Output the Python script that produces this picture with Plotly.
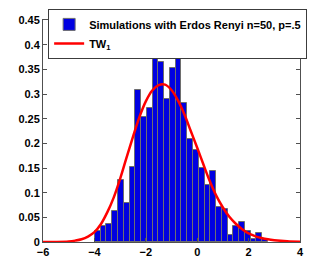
import plotly.graph_objects as go

# Histogram (normalised density), 30 bins
bin_start = -3.98
bin_width = 0.2245
density = [0.0223, 0.0325, 0.0365, 0.063, 0.125, 0.080, 0.152, 0.308, 0.254, 0.272,
           0.375, 0.364, 0.290, 0.352, 0.375, 0.281, 0.209, 0.187, 0.151, 0.116,
           0.143, 0.0717, 0.0676, 0.0142, 0.0325, 0.0406, 0.023, 0.0054, 0.018, 0.0054]
bin_centers = [bin_start + bin_width * (i + 0.5) for i in range(len(density))]

# Tracy-Widom (beta=1) density
tw_x = [-6, -5.5, -5, -4.75, -4.5, -4.25, -4, -3.75, -3.5, -3.25, -3, -2.75, -2.5, -2.25,
        -2, -1.75, -1.5, -1.25, -1, -0.75, -0.5, -0.25, 0, 0.25, 0.5, 0.75, 1, 1.25,
        1.5, 1.75, 2, 2.25, 2.5, 2.75, 3, 3.5, 4]
tw_y = [0.00002, 0.0002, 0.0012, 0.0028, 0.0055, 0.011, 0.02, 0.036, 0.06, 0.09, 0.128,
        0.171, 0.213, 0.253, 0.285, 0.307, 0.318, 0.319, 0.308, 0.287, 0.259, 0.225,
        0.191, 0.156, 0.122, 0.093, 0.07, 0.051, 0.037, 0.026, 0.0175, 0.012, 0.0082,
        0.0055, 0.0037, 0.0015, 0.0005]

x_ticks = [-6, -4, -2, 0, 2, 4]
y_ticks = [0, 0.05, 0.1, 0.15, 0.2, 0.25, 0.3, 0.35, 0.4, 0.45]
y_tick_labels = ["0", "0.05", "0.1", "0.15", "0.2", "0.25", "0.3", "0.35", "0.4", "0.45"]

font = dict(family="Liberation Sans, Arial, sans-serif", size=11, color="black", weight="bold")

fig = go.Figure()
fig.add_trace(go.Bar(
    x=bin_centers, y=density, width=bin_width,
    marker=dict(color="rgb(0,0,225)", line=dict(color="rgb(110,110,110)", width=1)),
    name="Simulations with Erdos Renyi n=50, p=.5",
))
fig.add_trace(go.Scatter(
    x=tw_x, y=tw_y, mode="lines",
    line=dict(color="rgb(255,0,0)", width=2.5, shape="spline", smoothing=1.0),
    name="TW<sub>1</sub>",
))

axis_common = dict(
    showline=True, linecolor="rgb(80,80,80)", linewidth=1, mirror="ticks",
    ticks="inside", ticklen=4, tickcolor="rgb(80,80,80)", tickwidth=1,
    showgrid=False, zeroline=False, tickfont=font,
)
fig.update_xaxes(range=[-6, 4], tickvals=x_ticks, **axis_common)
fig.update_yaxes(range=[0, 0.45], tickvals=y_ticks, ticktext=y_tick_labels, **axis_common)

# page body adds an 8px margin, so the figure is 8px smaller and shifted
fig.update_layout(
    width=324, height=264,
    margin=dict(l=35, r=32, t=12, b=30, autoexpand=False),
    plot_bgcolor="white", paper_bgcolor="white",
    bargap=0,
    font=font,
    showlegend=True,
    legend=dict(
        x=0.02, y=1.05, xanchor="left", yanchor="top",
        bgcolor="white", bordercolor="rgb(60,60,60)", borderwidth=1,
        font=font, tracegroupgap=0, itemwidth=30,
    ),
)

fig.write_html("out.html")
